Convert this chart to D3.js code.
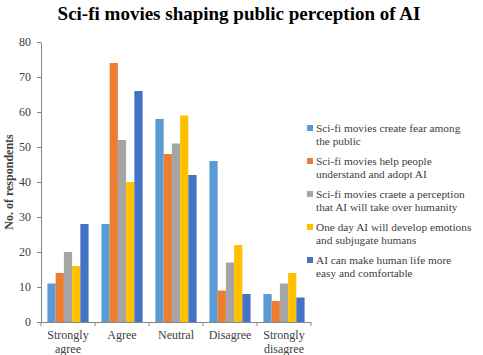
<!DOCTYPE html>
<html><head><meta charset="utf-8">
<script src="https://cdn.jsdelivr.net/npm/d3@7"></script>
<style>body{margin:0;background:#fff}svg{display:block}svg text{font-family:"Liberation Serif","DejaVu Serif",serif}</style>
</head><body>
<script>
const categories = [["Strongly","agree"],["Agree"],["Neutral"],["Disagree"],["Strongly","disagree"]];
const seriesNames = [
  ["Sci-fi movies create fear among","the public"],
  ["Sci-fi movies help people","understand and adopt AI"],
  ["Sci-fi movies craete a perception","that AI will take over humanity"],
  ["One day AI will develop emotions","and subjugate humans"],
  ["AI can make human life more","easy and comfortable"]
];
const fear = [11,28,58,46,8];
const helpAdopt = [14,74,48,9,6];
const takeOver = [20,52,51,17,11];
const emotions = [16,40,59,22,14];
const easier = [28,66,42,8,7];
const yTicks = [0,10,20,30,40,50,60,70,80];
const colors = ["#5B9BD5","#ED7D31","#A5A5A5","#FFC000","#4472C4"];
const series = [fear, helpAdopt, takeOver, emotions, easier];

const W=483,H=355;
const FONT='"Liberation Serif","DejaVu Serif",serif';
const svg=d3.select("body").append("svg").attr("width",W).attr("height",H);
const mLeft=41,mRight=311,mTop=42,mBottom=322;
const x=d3.scaleBand().domain(d3.range(categories.length)).range([mLeft,mRight]);
const xs=d3.scaleBand().domain(d3.range(series.length)).range([0,x.bandwidth()]).paddingOuter(0.78).paddingInner(0);
const y=d3.scaleLinear().domain([0,80]).range([mBottom,mTop]);

svg.append("text").attr("x",239).attr("y",20).attr("text-anchor","middle")
  .style("font-size","19px").style("font-weight","bold").attr("fill","#000").text("Sci-fi movies shaping public perception of AI");

series.forEach((s,si)=>{
  svg.append("g").selectAll("rect").data(s).join("rect")
    .attr("x",(d,i)=>x(i)+xs(si)).attr("width",xs.bandwidth())
    .attr("y",d=>y(d)).attr("height",d=>y(0)-y(d)).attr("fill",colors[si]);
});

const ya=svg.append("g").attr("transform",`translate(${mLeft},0)`).call(d3.axisLeft(y).tickValues(yTicks).tickSize(4).tickSizeOuter(0));
ya.attr("font-family",FONT);
ya.select(".domain").attr("stroke","#868686");
ya.selectAll(".tick line").attr("stroke","#868686");
ya.selectAll(".tick text").style("font-family",FONT).style("font-size","12px").attr("fill","#404040").attr("x",-10);

const xa=svg.append("g").attr("transform",`translate(0,${mBottom})`);
xa.append("line").attr("x1",mLeft).attr("x2",mRight).attr("y1",0.5).attr("y2",0.5).attr("stroke","#868686");
d3.range(categories.length+1).forEach(i=>{
  const xx = i<categories.length ? x(i) : mRight;
  xa.append("line").attr("x1",xx).attr("x2",xx).attr("y1",0).attr("y2",4).attr("stroke","#868686");
});
categories.forEach((c,i)=>{
  const t=xa.append("text").attr("text-anchor","middle").attr("fill","#404040").style("font-size","12px");
  c.forEach((ln,j)=>t.append("tspan").attr("x",x(i)+x.bandwidth()/2).attr("y",17+j*13.5).text(ln));
});

svg.append("text").attr("transform","translate(13,182) rotate(-90)").attr("text-anchor","middle")
  .style("font-size","12px").style("font-weight","bold").attr("fill","#404040").text("No. of respondents");

const lg=svg.append("g");
seriesNames.forEach((nm,i)=>{
  const yy=132+i*33;
  lg.append("rect").attr("x",307).attr("y",yy-7).attr("width",6).attr("height",6).attr("fill",colors[i]);
  const t=lg.append("text").attr("fill","#404040").style("font-size","11.3px");
  nm.forEach((ln,j)=>t.append("tspan").attr("x",316).attr("y",yy+j*13).text(ln));
});
</script>
</body></html>
